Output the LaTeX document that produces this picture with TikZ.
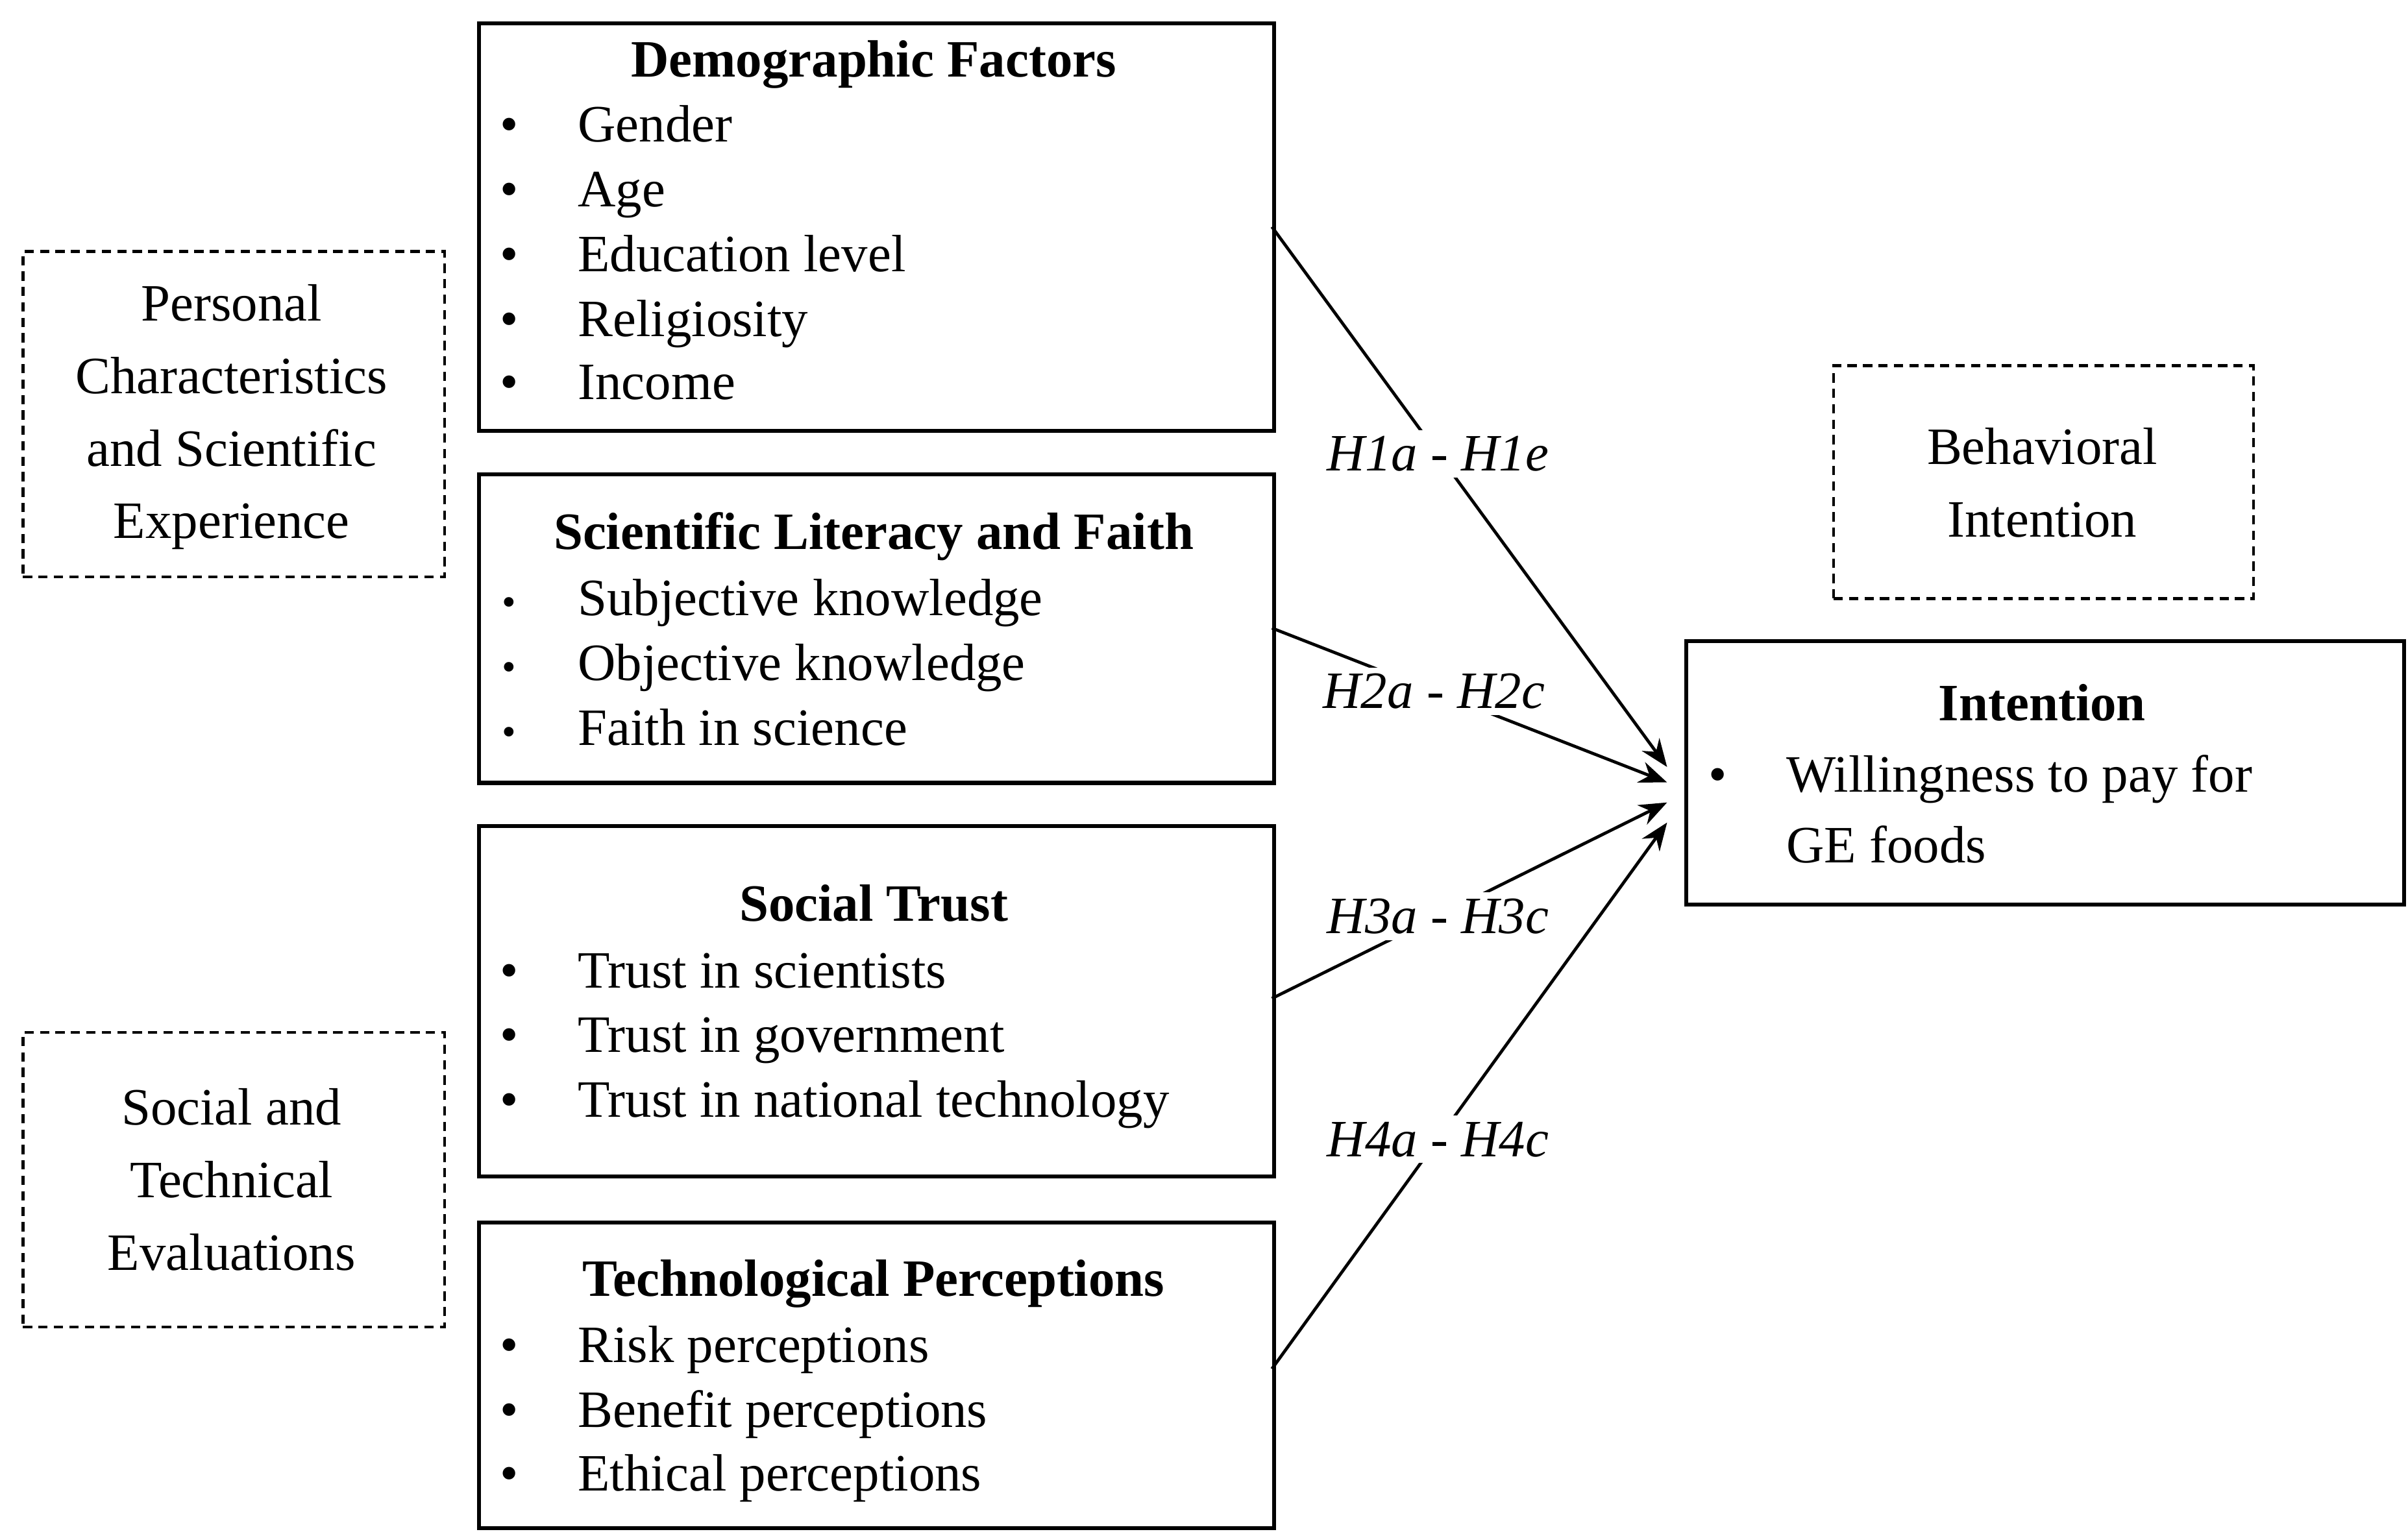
\documentclass[tikz,border=0pt]{standalone}
\usepackage{fontspec}
\setmainfont{Liberation Serif}
\usetikzlibrary{arrows.meta}
\begin{document}
\begin{tikzpicture}[x=0.5pt,y=-0.5pt,
  box/.style={draw,line width=1.3pt},
  dbox/.style={draw,line width=0.9pt,dash pattern=on 3pt off 2pt},
  txt/.style={inner sep=0pt,anchor=base west,font=\fontsize{17pt}{21pt}\selectfont},
  ttl/.style={inner sep=0pt,anchor=base,font=\fontsize{17pt}{21pt}\selectfont\bfseries},
  ctr/.style={inner sep=0pt,anchor=base,font=\fontsize{17pt}{21pt}\selectfont},
  bul/.style={inner sep=0pt,anchor=base,font=\fontsize{17pt}{21pt}\selectfont},
  hl/.style={fill=white,inner sep=2pt,font=\fontsize{17pt}{21pt}\selectfont\itshape},
  arr/.style={line width=1pt,-{Stealth[length=9pt,width=7pt]}}]
\useasboundingbox (0,0) rectangle (1560,994);
% boxes
\node[box,minimum width=257.5pt,minimum height=132pt,anchor=north west] (demo) at (309,14) {};
\node[box,minimum width=257.5pt,minimum height=100pt,anchor=north west] (sci) at (309,306) {};
\node[box,minimum width=257.5pt,minimum height=113.5pt,anchor=north west] (trust) at (309,534) {};
\node[box,minimum width=257.5pt,minimum height=99pt,anchor=north west] (tech) at (309,791) {};
\node[box,minimum width=232.5pt,minimum height=85.5pt,anchor=north west] (int) at (1091,414) {};
\node[dbox,minimum width=136.5pt,minimum height=105.5pt,anchor=north west] (pers) at (14,162) {};
\node[dbox,minimum width=136.5pt,minimum height=95.5pt,anchor=north west] (soc) at (14,668) {};
\node[dbox,minimum width=136pt,minimum height=75.5pt,anchor=north west] (beh) at (1187,236) {};
% texts
\node[ttl] (t1) at (566,50) {Demographic Factors};
\foreach \y/\t [count=\i] in {92/Gender,134/Age,176/Education level,218/Religiosity,259/Income}{
  \node[bul] (db\i) at (330,\y) {•}; \node[txt] (dt\i) at (374,\y) {\t};}
\node[ttl] (t2) at (566,356) {Scientific Literacy and Faith};
\foreach \y/\t [count=\i] in {399/Subjective knowledge,441/Objective knowledge,483/Faith in science}{
  \node[bul,font=\fontsize{13pt}{15pt}\selectfont] (sb\i) at (330,\y) {•}; \node[txt] (st\i) at (374,\y) {\t};}
\node[ttl] (t3) at (566,597) {Social Trust};
\foreach \y/\t [count=\i] in {640/Trust in scientists,682/Trust in government,724/Trust in national technology}{
  \node[bul] (tb\i) at (330,\y) {•}; \node[txt] (tt\i) at (374,\y) {\t};}
\node[ttl] (t4) at (566,840) {Technological Perceptions};
\foreach \y/\t [count=\i] in {883/Risk perceptions,925/Benefit perceptions,966/Ethical perceptions}{
  \node[bul] (pb\i) at (330,\y) {•}; \node[txt] (pt\i) at (374,\y) {\t};}
\node[ttl] (t5) at (1323,467) {Intention};
\node[bul] (ib) at (1113,513) {•};
\node[txt] (it1) at (1157,513) {Willingness to pay for};
\node[txt] (it2) at (1157,559) {GE foods};
\foreach \y/\t [count=\i] in {208/Personal,255/Characteristics,302/and Scientific,349/Experience}{
  \node[ctr] (pc\i) at (150,\y) {\t};}
\foreach \y/\t [count=\i] in {729/Social and,776/Technical,823/Evaluations}{
  \node[ctr] (sc\i) at (150,\y) {\t};}
\node[ctr] (bc1) at (1323,301) {Behavioral};
\node[ctr] (bc2) at (1323,348) {Intention};
% connectors
\coordinate (a1) at (824,147); \coordinate (e1) at (1080,497);
\coordinate (a2) at (824,407); \coordinate (e2) at (1080,507);
\coordinate (a3) at (824,647); \coordinate (e3) at (1080,520);
\coordinate (a4) at (824,887); \coordinate (e4) at (1080,533);
\draw[arr] (a1) -- node[hl,pos=0.42] (h1) {H1a - H1e} (e1);
\draw[arr] (a2) -- node[hl,pos=0.41] (h2) {H2a - H2c} (e2);
\draw[arr] (a3) -- node[hl,pos=0.42] (h3) {H3a - H3c} (e3);
\draw[arr] (a4) -- node[hl,pos=0.42] (h4) {H4a - H4c} (e4);
\end{tikzpicture}
\end{document}
